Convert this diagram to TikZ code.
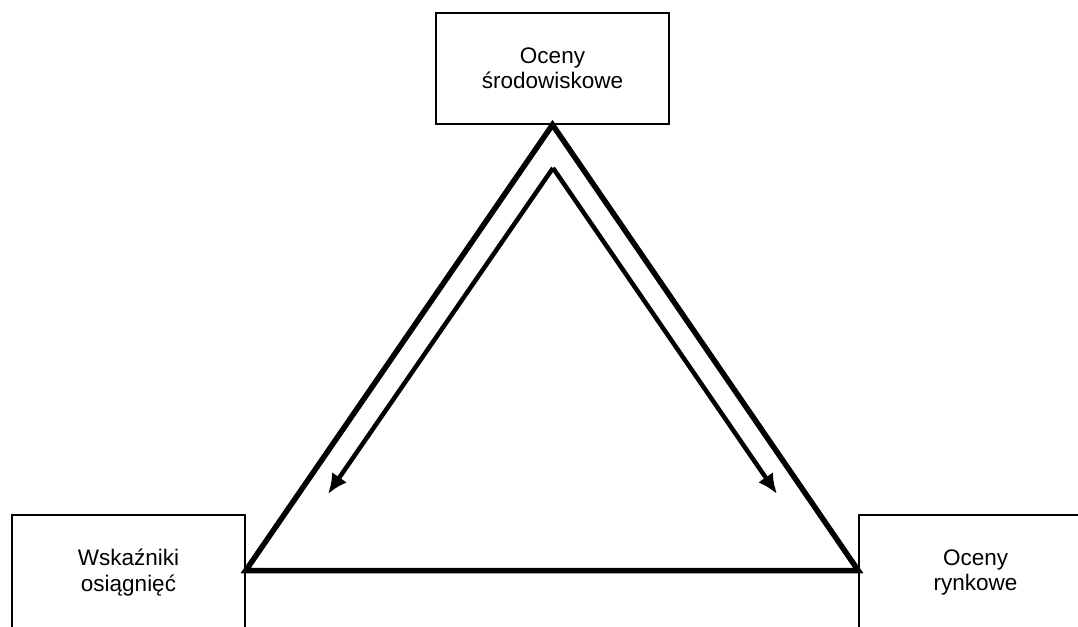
\documentclass[tikz,border=0pt]{standalone}
\usepackage{fontspec}
\setmainfont{Liberation Sans}
\usetikzlibrary{arrows.meta}
\begin{document}
\begin{tikzpicture}[x=1pt,y=-1pt,
  box/.style={draw, line width=1.5pt, minimum width=233pt, minimum height=111pt, inner sep=0pt, align=center, font=\fontsize{22.5}{25.5}\selectfont},
  lowbox/.style={box, minimum height=115pt},
  tri/.style={line width=5.5pt, line join=miter},
  arr/.style={line width=4.5pt, -{Latex[length=20pt,width=18pt]}}]
\useasboundingbox (0,0) rectangle (1078,626);
\clip (0,0) rectangle (1078,626);
\node[box] (top) at (552.5,68.5) {Oceny\\środowiskowe};
\node[lowbox] (left) at (128.5,572.5) {Wskaźniki\\osiągnięć};
\node[lowbox] (right) at (975.5,572.5) {Oceny\\rynkowe};
\draw[tri] ([yshift=2pt]left.east) -- (top.south) -- ([yshift=2pt]right.west) -- cycle;
\coordinate (ia) at (553,168);
\coordinate (la) at (328,494);
\coordinate (ra) at (777,494);
\draw[arr] (ia) -- (la);
\draw[arr] (ia) -- (ra);
\end{tikzpicture}
\end{document}
